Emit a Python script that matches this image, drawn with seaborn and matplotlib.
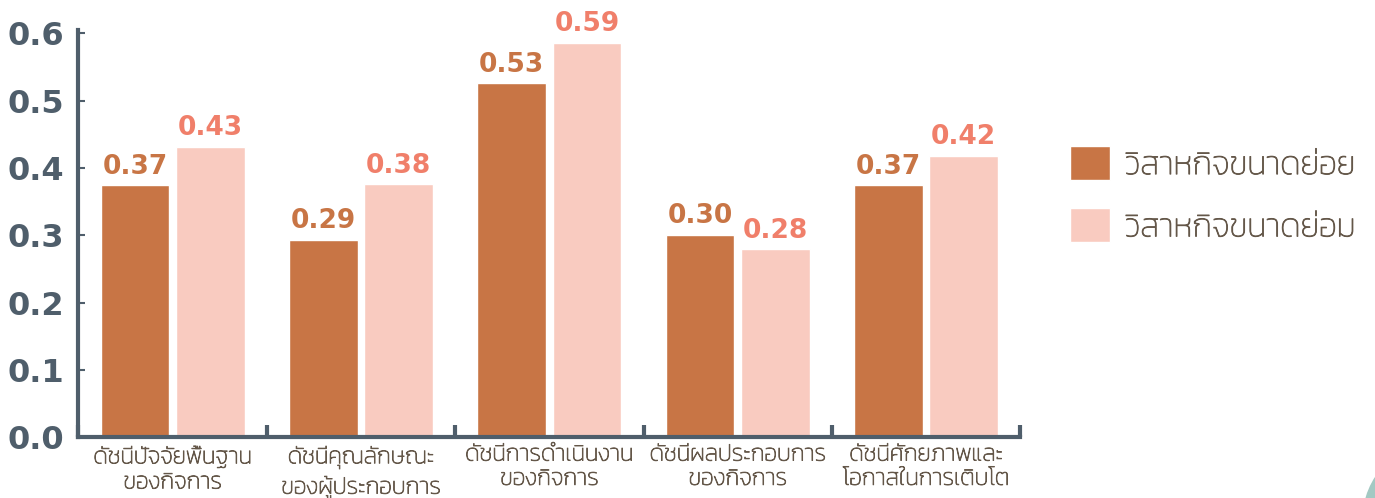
import pandas as pd
import matplotlib
matplotlib.use("Agg")
import matplotlib.pyplot as plt
import matplotlib.patches as mpatches
import matplotlib.patheffects as pe
import seaborn as sns

categories = [
    "ดัชนีปัจจัยพื้นฐาน\nของกิจการ",
    "ดัชนีคุณลักษณะ\nของผู้ประกอบการ",
    "ดัชนีการดำเนินงาน\nของกิจการ",
    "ดัชนีผลประกอบการ\nของกิจการ",
    "ดัชนีศักยภาพและ\nโอกาสในการเติบโต",
]
series_names = ["วิสาหกิจขนาดย่อย", "วิสาหกิจขนาดย่อม"]
micro_values = [0.374, 0.293, 0.526, 0.301, 0.374]
small_values = [0.431, 0.376, 0.586, 0.279, 0.418]
y_ticks = [0.0, 0.1, 0.2, 0.3, 0.4, 0.5, 0.6]

bar_colors = ["#C87545", "#F9CBC0"]
label_colors = ["#C87545", "#F07F6A"]
axis_color = "#4F5E6B"
text_color = "#645749"

sns.set_theme(style="white")
plt.rcParams["font.family"] = ["Kanit", "DejaVu Sans"]
plt.rcParams["font.weight"] = "light"

df = pd.DataFrame({
    "category": categories * 2,
    "value": micro_values + small_values,
    "series": [series_names[0]] * 5 + [series_names[1]] * 5,
})

fig = plt.figure(figsize=(13.75, 4.98), dpi=100)
ax = fig.add_axes([0.057, 0.122, 0.685, 0.818])
sns.barplot(data=df, x="category", y="value", hue="series",
            palette=bar_colors, width=0.8, gap=0.09,
            saturation=1, ax=ax)

# value labels above bars
for cont, col in zip(ax.containers, label_colors):
    ax.bar_label(cont, labels=[f"{b.get_height():.2f}" for b in cont],
                 padding=4, color=col, fontsize=19, fontweight="bold",
                 family="DejaVu Sans")

ax.set_ylim(0, 0.605)
ax.set_xlim(-0.5, 4.5)
ax.set_xlabel("")
ax.set_ylabel("")
ax.set_yticks(y_ticks)
ax.set_yticklabels([f"{t:.1f}" for t in y_ticks], fontsize=23,
                   fontweight="bold", color=axis_color, family="DejaVu Sans")
ax.tick_params(axis="y", direction="in", length=5, width=1.5,
               color=axis_color, pad=10, left=True)

# slightly heavier strokes for the thin Thai font
thicken = [pe.withStroke(linewidth=0.6, foreground=text_color)]

# category labels centered, group boundary ticks pointing up
ax.tick_params(axis="x", which="major", length=0, pad=6,
               labelsize=16.7, labelcolor=text_color)
for lbl in ax.get_xticklabels():
    lbl.set_linespacing(1.35)
    lbl.set_path_effects(thicken)
ax.set_xticks([i - 0.5 for i in range(len(categories) + 1)], minor=True)
ax.tick_params(axis="x", which="minor", direction="in", length=9, width=3,
               color=axis_color, bottom=True)

sns.despine(ax=ax)
for side in ["left", "bottom"]:
    ax.spines[side].set_color(axis_color)
    ax.spines[side].set_linewidth(3)

sns.move_legend(ax, "upper left", bbox_to_anchor=(0.769, 0.733),
                bbox_transform=fig.transFigure, title=None, frameon=False,
                fontsize=23.6, handlelength=1.22, handleheight=1.22,
                labelspacing=0.83, handletextpad=0.43, borderaxespad=0)
for t in ax.get_legend().get_texts():
    t.set_color(text_color)
    t.set_path_effects(thicken)

# decorative corner shape
fig.patches.append(mpatches.Circle((14.42, -0.22), 0.79, color="#A3C9C3",
                                   transform=fig.dpi_scale_trans, zorder=0))

fig.savefig("out.png", dpi=100)
